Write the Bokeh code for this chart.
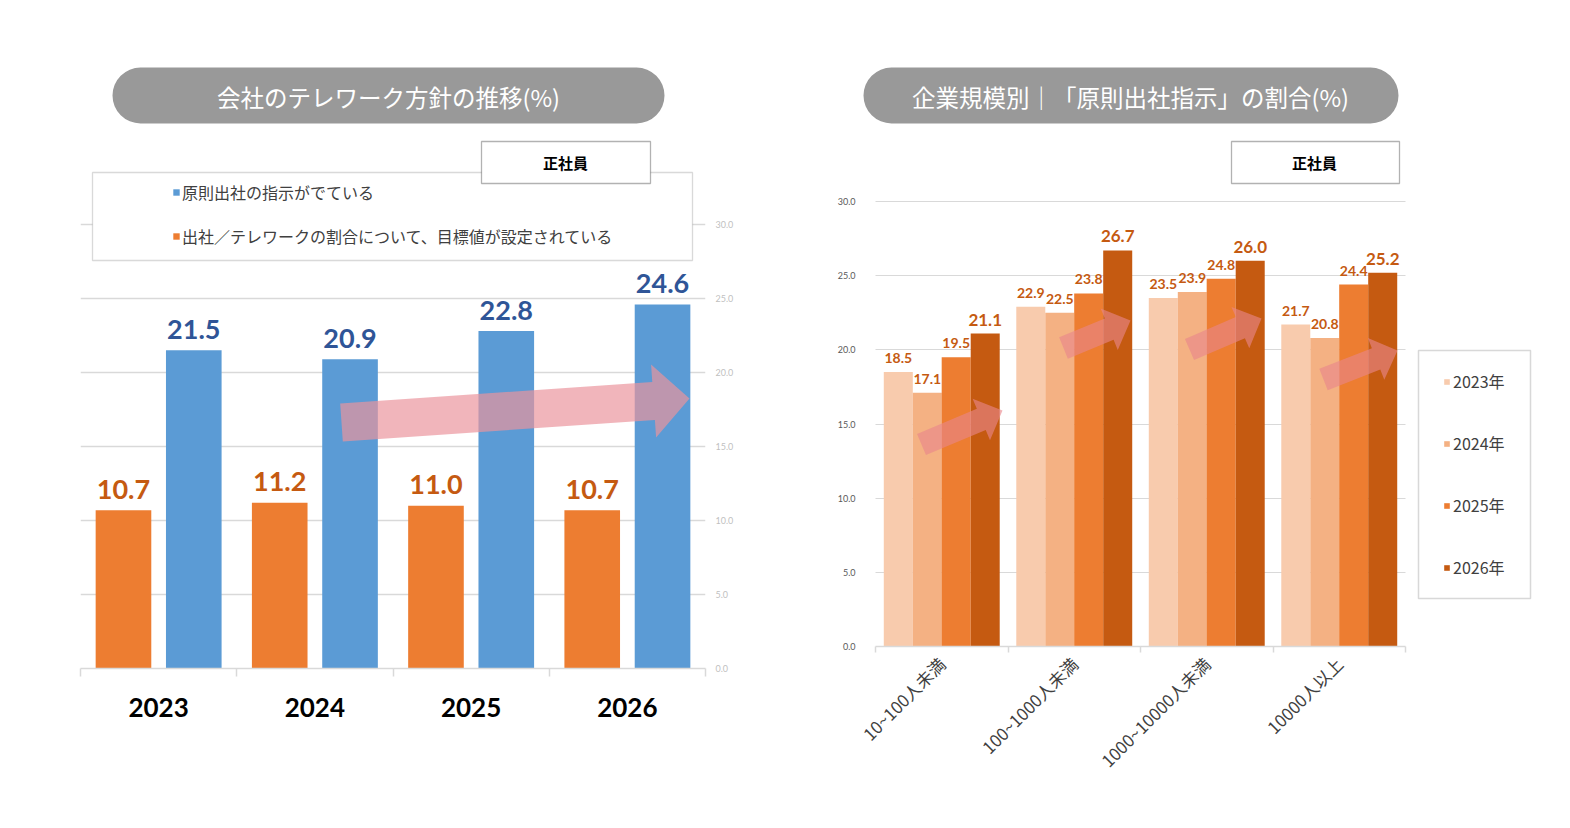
import math
from bokeh.plotting import figure
from bokeh.models import (ColumnDataSource, Range1d, LinearAxis, FixedTicker, PrintfTickFormatter,
                          BoxAnnotation, Label, Legend, LegendItem)
from bokeh.transform import dodge
from bokeh.layouts import row
from bokeh.core.properties import value
from bokeh.embed import file_html
from bokeh.resources import INLINE

# ---------------- data ----------------
years = ["2023", "2024", "2025", "2026"]
instructed = [21.5, 20.9, 22.8, 24.6]      # 原則出社の指示がでている
target_set = [10.7, 11.2, 11.0, 10.7]      # 出社／テレワークの割合について、目標値が設定されている
left_legend_labels = ["原則出社の指示がでている",
                      "出社／テレワークの割合について、目標値が設定されている"]

sizes = ["10~100人未満", "100~1000人未満", "1000~10000人未満", "10000人以上"]
share_2023 = [18.5, 22.9, 23.5, 21.7]
share_2024 = [17.1, 22.5, 23.9, 20.8]
share_2025 = [19.5, 23.8, 24.8, 24.4]
share_2026 = [21.1, 26.7, 26.0, 25.2]
year_legend_labels = ["2023年", "2024年", "2025年", "2026年"]

value_ticks = [0, 5, 10, 15, 20, 25, 30]

title_left = "会社のテレワーク方針の推移(%)"
title_right = "企業規模別｜「原則出社指示」の割合(%)"
badge_text = "正社員"

JP = "Noto Sans CJK JP"
NUM = "Lato"

# ---------------- helpers ----------------
def arrow_poly(tail, tip, bw, hw, hl, fx, fy):
    (tx, ty), (px, py) = tail, tip
    L = math.hypot(px - tx, py - ty)
    ux, uy = (px - tx) / L, (py - ty) / L
    nx, ny = -uy, ux
    bx, by = px - ux * hl, py - uy * hl
    pts = [(tx + nx * bw, ty + ny * bw), (bx + nx * bw, by + ny * bw), (bx + nx * hw, by + ny * hw),
           (px, py), (bx - nx * hw, by - ny * hw), (bx - nx * bw, by - ny * bw),
           (tx - nx * bw, ty - ny * bw)]
    return [fx(x) for x, _ in pts], [fy(y) for _, y in pts]


def base_fig(xr, yr, fw, fh, bl, br, bt, bb, yloc):
    p = figure(x_range=Range1d(*xr), y_range=Range1d(*yr), frame_width=fw, frame_height=fh,
               min_border_left=bl, min_border_right=br, min_border_top=bt, min_border_bottom=bb,
               x_axis_location=None, y_axis_location=yloc,
               output_backend="svg", toolbar_location=None,
               background_fill_color="white", border_fill_color="white", outline_line_color=None)
    p.xgrid.visible = False
    p.ygrid.ticker = FixedTicker(ticks=value_ticks)
    p.ygrid.grid_line_color = "#D9D9D9"
    p.yaxis.ticker = FixedTicker(ticks=value_ticks)
    p.yaxis.formatter = PrintfTickFormatter(format="%.1f")
    p.yaxis.axis_line_color = None
    p.yaxis.major_tick_line_color = None
    p.yaxis.minor_tick_line_color = None
    p.yaxis.major_label_text_font = NUM
    p.yaxis.major_label_text_font_size = "9px"
    return p


def category_axis(cats, tick_len, **kw):
    n = len(cats)
    centers = [i + 0.5 for i in range(n)]
    return LinearAxis(ticker=FixedTicker(ticks=centers, minor_ticks=list(range(n + 1))),
                      major_label_overrides={c: lab for c, lab in zip(centers, cats)},
                      bounds=(0, n),
                      axis_line_color="#D9D9D9", axis_line_width=1.5,
                      major_tick_line_color=None, major_tick_out=0, major_tick_in=0,
                      minor_tick_line_color="#D9D9D9", minor_tick_line_width=1.5,
                      minor_tick_out=tick_len, minor_tick_in=0, **kw)

# ================= LEFT CHART =================
lx = lambda sx: (sx - 80) / 156.25       # page pixel -> chart units (decorations only)
ly = lambda sy: (668 - sy) / 14.8

p1 = base_fig((0, len(years)), (0, 608 / 14.8), 625, 608, 80, 83, 60, 150, "right")
p1.ygrid.grid_line_width = 1.6
p1.yaxis.major_label_text_color = "#BFBFBF"
p1.yaxis.major_label_standoff = 4

p1.add_layout(category_axis(years, 8, major_label_standoff=21, major_label_text_font=NUM,
                            major_label_text_font_style="bold", major_label_text_font_size="26px",
                            major_label_text_color="#000000"), "below")

src1 = ColumnDataSource(dict(xc=[i + 0.5 for i in range(len(years))], year=years,
                             instructed=instructed, target=target_set,
                             instructed_lbl=[f"{v:.1f}" for v in instructed],
                             target_lbl=[f"{v:.1f}" for v in target_set]))
off1 = 0.225
r_target = p1.vbar(x=dodge("xc", -off1), top="target", width=0.356,
                   source=src1, fill_color="#ED7D31", line_color=None)
r_instr = p1.vbar(x=dodge("xc", off1), top="instructed", width=0.356,
                  source=src1, fill_color="#5B9BD5", line_color=None)
p1.text(x=dodge("xc", -off1), y="target", text="target_lbl", source=src1,
        text_align="center", text_baseline="alphabetic", y_offset=-21,
        text_font=value(NUM), text_font_style="bold", text_font_size="27px", text_color="#C55A11")
p1.text(x=dodge("xc", off1), y="instructed", text="instructed_lbl", source=src1,
        text_align="center", text_baseline="alphabetic", y_offset=-21,
        text_font=value(NUM), text_font_style="bold", text_font_size="27px", text_color="#2F5597")

ax, ay = arrow_poly((341, 422), (689, 398), 19, 36.5, 36, lx, ly)
p1.patch(ax, ay, fill_color="#EB949C", fill_alpha=0.69, line_color=None)

p1.add_layout(BoxAnnotation(left=lx(112), right=lx(664), top=ly(67), bottom=ly(123),
                            fill_color="#999999", fill_alpha=1, line_color=None, border_radius=28))
p1.add_layout(Label(x=lx(388), y=ly(96), text=title_left, text_align="center",
                    text_baseline="middle", text_color="white", text_font=JP, text_font_size="23.5px"))
p1.add_layout(BoxAnnotation(left=lx(92), right=lx(692), top=ly(172), bottom=ly(260),
                            fill_color="white", fill_alpha=1, line_color="#808080", line_width=1.3))
p1.add_layout(BoxAnnotation(left=lx(481), right=lx(650), top=ly(141), bottom=ly(183),
                            fill_color="white", fill_alpha=1, line_color="#000000", line_width=1.3))
p1.add_layout(Label(x=lx(565), y=ly(162), text=badge_text, text_align="center",
                    text_baseline="middle", text_color="#000000", text_font=JP, text_font_size="15px",
                    text_font_style="bold"))

leg1 = Legend(items=[LegendItem(label=left_legend_labels[0], renderers=[r_instr]),
                     LegendItem(label=left_legend_labels[1], renderers=[r_target])],
              location=(92, 420), orientation="vertical", glyph_width=8, glyph_height=8,
              label_standoff=2, label_height=22, spacing=20, padding=0, margin=0,
              border_line_color=None, background_fill_alpha=0,
              label_text_font=JP, label_text_font_size="16px", label_text_color="#404040")
p1.add_layout(leg1, "center")

# ================= RIGHT CHART =================
rx = lambda sx: (sx - 875) / 132.5
ry = lambda sy: (646 - sy) * 30 / 445

x0 = -13 / 132.5
p2 = base_fig((x0, x0 + 672 / 132.5), (0, 586 * 30 / 445), 672, 586, 74, 20, 60, 172, "left")
p2.ygrid.grid_line_width = 1.2
p2.yaxis.major_label_text_color = "#595959"
p2.yaxis.major_label_standoff = 1
try:
    p2.ygrid.cross_bounds = (0, len(sizes))
except Exception:
    p2.ygrid.visible = False
    p2.segment(x0=[0] * len(value_ticks), x1=[len(sizes)] * len(value_ticks), y0=value_ticks,
               y1=value_ticks, line_color="#D9D9D9", line_width=1.2, level="underlay")

p2.add_layout(category_axis(sizes, 6, major_label_standoff=8, major_label_orientation=math.pi / 4,
                            major_label_text_font=JP, major_label_text_font_size="17px",
                            major_label_text_color="#404040"), "below")

series = [share_2023, share_2024, share_2025, share_2026]
colors = ["#F8CBAD", "#F4B183", "#ED7D31", "#C55A11"]
offsets = [-0.328, -0.109, 0.109, 0.328]
lbl_sizes = ["14px", "14px", "14px", "17px"]
rend2 = []
for vals, col, off, fs in zip(series, colors, offsets, lbl_sizes):
    s = ColumnDataSource(dict(xc=[i + 0.5 for i in range(len(sizes))], size=sizes, v=vals,
                              lbl=[f"{v:.1f}" for v in vals]))
    r = p2.vbar(x=dodge("xc", off), top="v", width=0.219, source=s, fill_color=col, line_color=None)
    rend2.append(r)
    p2.text(x=dodge("xc", off), y="v", text="lbl", source=s,
            text_align="center", text_baseline="alphabetic", y_offset=-14,
            text_font=value(NUM), text_font_style="bold", text_font_size=fs, text_color="#C55A11")

for tail, tip in [((921, 444), (1002, 410)), ((1063, 347.5), (1130, 320)),
                  ((1189, 349), (1261, 318)), ((1323, 379), (1397, 350))]:
    xs, ys = arrow_poly(tail, tip, 11.5, 22.5, 23, rx, ry)
    p2.patch(xs, ys, fill_color="#E8868A", fill_alpha=0.62, line_color=None)

p2.add_layout(BoxAnnotation(left=rx(863), right=rx(1398), top=ry(67), bottom=ry(123),
                            fill_color="#999999", fill_alpha=1, line_color=None, border_radius=28))
p2.add_layout(Label(x=rx(1130), y=ry(96), text=title_right, text_align="center",
                    text_baseline="middle", text_color="white", text_font=JP, text_font_size="23.5px"))
p2.add_layout(BoxAnnotation(left=rx(1231), right=rx(1399), top=ry(141), bottom=ry(183),
                            fill_color="white", fill_alpha=1, line_color="#000000", line_width=1.3))
p2.add_layout(Label(x=rx(1314), y=ry(162), text=badge_text, text_align="center",
                    text_baseline="middle", text_color="#000000", text_font=JP, text_font_size="15px",
                    text_font_style="bold"))
p2.add_layout(BoxAnnotation(left=rx(1418), right=rx(1530), top=ry(350), bottom=ry(598),
                            fill_color="white", fill_alpha=1, line_color="#7F7F7F", line_width=1.5))

leg2 = Legend(items=[LegendItem(label=lab, renderers=[r]) for lab, r in zip(year_legend_labels, rend2)],
              location=(581, 67), orientation="vertical", glyph_width=7, glyph_height=7,
              label_standoff=3, label_height=22, spacing=38, padding=0, margin=0,
              border_line_color=None, background_fill_alpha=0,
              label_text_font=JP, label_text_font_size="16px", label_text_color="#404040")
p2.add_layout(leg2, "center")

layout = row(p1, p2)
open("out.html", "w").write(file_html(layout, INLINE))
